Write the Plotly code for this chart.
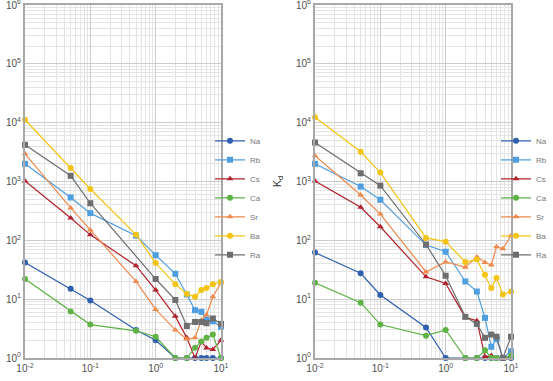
import plotly.graph_objects as go

x_vals = [0.01, 0.05, 0.1, 0.5, 1, 2, 3, 4, 5, 6, 7.5, 10]
series_names = ["Na", "Rb", "Cs", "Ca", "Sr", "Ba", "Ra"]

# left panel
left_Na = [42, 15, 9.5, 3.0, 2.0, 1, 1, 1, 1, 1, 1, 1]
left_Rb = [2000, 535, 290, 120, 56, 27, 12, 6.5, 6.1, 4.5, 4.2, 3.4]
left_Cs = [1020, 240, 124, 37, 14.3, 5.1, 2.2, 1, 1.9, 1.48, 1.4, 2.0]
left_Ca = [22, 6.2, 3.7, 2.9, 2.3, 1, 1, 1.5, 1.9, 2.2, 2.5, 1]
left_Sr = [2950, 355, 150, 20, 6.7, 3.0, 2.1, 2.2, 4.4, 5.4, 11, 19]
left_Ba = [11200, 1700, 745, 125, 41, 18, 12.3, 11, 14.3, 15.5, 18, 19.6]
left_Ra = [4200, 1250, 427, None, 22, 9.7, 3.5, 4.1, 4.1, 3.9, 4.7, 3.8]

# right panel
right_Na = [62, 27.5, 11.8, 3.3, 1, 1, 1, 1, 1, 1, 1, 1]
right_Rb = [2000, 820, 490, 83, 64, 20, 13.5, 4.8, 1.55, 2.1, 1, 1.3]
right_Cs = [1020, 365, 170, 24, 18.5, 4.9, 4.3, 1.05, 1.1, 1, 1, 1.1]
right_Ca = [19, 8.7, 3.7, 2.4, 3.0, 1, 1, 1.35, 1, 1, 1, 1.1]
right_Sr = [2740, 590, 280, 29, 43, 35, 52, 42, 38, 78, 72, 120]
right_Ba = [12400, 3200, 1420, 110, 95, 43, 47, 26, 15.5, 23, 12, 13.5]
right_Ra = [4600, 1380, 850, 85, 25, 5, 3.8, 2.2, 2.5, 2.3, 1, 2.3]

x_tick_vals = [0.01, 0.1, 1, 10]
x_tick_text = ["10<sup>-2</sup>", "10<sup>-1</sup>", "10<sup>0</sup>", "10<sup>1</sup>"]
y_tick_vals = [1, 10, 100, 1000, 10000, 100000, 1000000]
y_tick_text = ["10<sup>0</sup>", "10<sup>1</sup>", "10<sup>2</sup>", "10<sup>3</sup>",
               "10<sup>4</sup>", "10<sup>5</sup>", "10<sup>6</sup>"]

colors = {"Na": "#2f5fae", "Rb": "#4f9fe0", "Cs": "#b0222c", "Ca": "#5fb246",
          "Sr": "#ee8a4c", "Ba": "#f3c414", "Ra": "#6e6e6e"}
symbols = {"Na": "circle", "Rb": "square", "Cs": "triangle-up", "Ca": "circle",
           "Sr": "triangle-up", "Ba": "circle", "Ra": "square"}

left = dict(zip(series_names, [left_Na, left_Rb, left_Cs, left_Ca, left_Sr, left_Ba, left_Ra]))
right = dict(zip(series_names, [right_Na, right_Rb, right_Cs, right_Ca, right_Sr, right_Ba, right_Ra]))

fig = go.Figure()
for panel, data, xa, ya, lg in [("l", left, "x", "y", "legend"), ("r", right, "x2", "y2", "legend2")]:
    for name in series_names:
        fig.add_trace(go.Scatter(
            x=x_vals, y=data[name], name=name, mode="lines+markers",
            xaxis=xa, yaxis=ya, legend=lg, connectgaps=True, cliponaxis=False,
            line=dict(color=colors[name], width=1.2),
            marker=dict(color=colors[name], symbol=symbols[name], size=6),
        ))

tick_font = dict(family="Liberation Sans, Arial", size=10, color="#505050")
axis_common = dict(
    type="log", showline=True, linecolor="#a8a8a8", linewidth=2, mirror=True,
    showgrid=True, gridcolor="#cccccc", gridwidth=1, ticks="", zeroline=False,
    automargin=False, tickfont=tick_font, ticklabeloverflow="allow",
    minor=dict(showgrid=True, gridcolor="#e4e4e4", gridwidth=1, dtick="D1"),
)
legend_font = dict(family="Liberation Sans, Arial", size=8, color="#777")

fig.update_layout(
    width=553, height=381, paper_bgcolor="white", plot_bgcolor="white",
    margin=dict(l=0, r=0, t=5, b=23),
    xaxis=dict(domain=[25/553, 221/553], range=[-2, 1], tickvals=x_tick_vals,
               ticktext=x_tick_text, anchor="y", **axis_common),
    yaxis=dict(domain=[0, 1], range=[0, 6], tickvals=y_tick_vals,
               ticktext=y_tick_text, anchor="x", **axis_common),
    xaxis2=dict(domain=[315/553, 511/553], range=[-2, 1], tickvals=x_tick_vals,
                ticktext=x_tick_text, anchor="y2", **axis_common),
    yaxis2=dict(domain=[0, 1], range=[0, 6], tickvals=y_tick_vals,
                ticktext=y_tick_text, anchor="x2",
                title=dict(text="K<sub>d</sub>", standoff=12,
                           font=dict(family="Liberation Sans, Arial", size=11, color="#333")),
                **axis_common),
    legend=dict(x=210/553, y=1 - 131/381, xanchor="left", yanchor="top",
                font=legend_font, itemwidth=30, tracegroupgap=0,
                bgcolor="rgba(0,0,0,0)"),
    legend2=dict(x=496/553, y=1 - 131/381, xanchor="left", yanchor="top",
                 font=legend_font, itemwidth=30, tracegroupgap=0,
                 bgcolor="rgba(0,0,0,0)"),
    showlegend=True,
)

fig.write_html("out.html", config={"displayModeBar": False},
               post_script="document.body.style.margin='0';")
